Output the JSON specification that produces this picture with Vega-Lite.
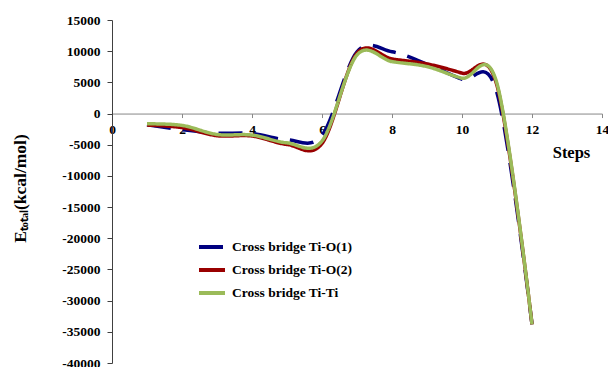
{
  "$schema": "https://vega.github.io/schema/vega-lite/v6.json",
  "width": 490,
  "height": 343,
  "autosize": {"type": "none"},
  "padding": {"left": 112, "top": 20, "right": 6, "bottom": 4},
  "background": "white",
  "config": {"view": {"stroke": null}, "font": "Liberation Serif"},
  "data": {
    "values": [
      {"step": 1, "series": "Cross bridge Ti-O(1)", "energy": -1800},
      {"step": 2, "series": "Cross bridge Ti-O(1)", "energy": -2600},
      {"step": 3, "series": "Cross bridge Ti-O(1)", "energy": -3150},
      {"step": 4, "series": "Cross bridge Ti-O(1)", "energy": -3200},
      {"step": 5, "series": "Cross bridge Ti-O(1)", "energy": -4200},
      {"step": 6, "series": "Cross bridge Ti-O(1)", "energy": -3500},
      {"step": 7, "series": "Cross bridge Ti-O(1)", "energy": 9900},
      {"step": 8, "series": "Cross bridge Ti-O(1)", "energy": 9900},
      {"step": 9, "series": "Cross bridge Ti-O(1)", "energy": 7900},
      {"step": 10, "series": "Cross bridge Ti-O(1)", "energy": 5500},
      {"step": 11, "series": "Cross bridge Ti-O(1)", "energy": 3300},
      {"step": 12, "series": "Cross bridge Ti-O(1)", "energy": -33800},
      {"step": 1, "series": "Cross bridge Ti-O(2)", "energy": -1850},
      {"step": 2, "series": "Cross bridge Ti-O(2)", "energy": -2250},
      {"step": 3, "series": "Cross bridge Ti-O(2)", "energy": -3550},
      {"step": 4, "series": "Cross bridge Ti-O(2)", "energy": -3600},
      {"step": 5, "series": "Cross bridge Ti-O(2)", "energy": -4950},
      {"step": 6, "series": "Cross bridge Ti-O(2)", "energy": -4800},
      {"step": 7, "series": "Cross bridge Ti-O(2)", "energy": 9670},
      {"step": 8, "series": "Cross bridge Ti-O(2)", "energy": 8760},
      {"step": 9, "series": "Cross bridge Ti-O(2)", "energy": 7960},
      {"step": 10, "series": "Cross bridge Ti-O(2)", "energy": 6470},
      {"step": 11, "series": "Cross bridge Ti-O(2)", "energy": 4500},
      {"step": 12, "series": "Cross bridge Ti-O(2)", "energy": -33800},
      {"step": 1, "series": "Cross bridge Ti-Ti", "energy": -1650},
      {"step": 2, "series": "Cross bridge Ti-Ti", "energy": -1900},
      {"step": 3, "series": "Cross bridge Ti-Ti", "energy": -3350},
      {"step": 4, "series": "Cross bridge Ti-Ti", "energy": -3450},
      {"step": 5, "series": "Cross bridge Ti-Ti", "energy": -4700},
      {"step": 6, "series": "Cross bridge Ti-Ti", "energy": -4400},
      {"step": 7, "series": "Cross bridge Ti-Ti", "energy": 9400},
      {"step": 8, "series": "Cross bridge Ti-Ti", "energy": 8330},
      {"step": 9, "series": "Cross bridge Ti-Ti", "energy": 7530},
      {"step": 10, "series": "Cross bridge Ti-Ti", "energy": 5670},
      {"step": 11, "series": "Cross bridge Ti-Ti", "energy": 4800},
      {"step": 12, "series": "Cross bridge Ti-Ti", "energy": -33800}
    ]
  },
  "mark": {"type": "line", "interpolate": "cardinal", "tension": 0, "strokeWidth": 3.5, "clip": false},
  "encoding": {
    "x": {
      "field": "step",
      "type": "quantitative",
      "scale": {"domain": [0, 14], "nice": false, "zero": false},
      "axis": {
        "title": "Steps",
        "values": [0, 2, 4, 6, 8, 10, 12, 14],
        "offset": -249.45,
        "grid": false,
        "domainColor": "#888888",
        "tickColor": "#888888",
        "tickSize": 4,
        "labelPadding": 5,
        "labelFont": "Liberation Serif",
        "labelFontSize": 13.5,
        "labelFontWeight": "bold",
        "labelColor": "#000000",
        "labelFlush": false,
        "labelOverlap": false,
        "titleFont": "Liberation Serif",
        "titleFontSize": 16.5,
        "titleFontWeight": "bold",
        "titleColor": "#000000",
        "titleX": 459,
        "titleY": 44,
        "titleAlign": "center",
        "titleBaseline": "alphabetic"
      }
    },
    "y": {
      "field": "energy",
      "type": "quantitative",
      "scale": {"domain": [-40000, 15000], "nice": false, "zero": false},
      "axis": {
        "title": "Eₜₒₜₐₗ(kcal/mol)",
        "values": [-40000, -35000, -30000, -25000, -20000, -15000, -10000, -5000, 0, 5000, 10000, 15000],
        "labelExpr": "'' + datum.value",
        "grid": false,
        "domainColor": "#404040",
        "tickColor": "#404040",
        "tickSize": 5,
        "labelPadding": 7,
        "labelFont": "Liberation Serif",
        "labelFontSize": 13.5,
        "labelFontWeight": "bold",
        "labelColor": "#000000",
        "labelFlush": false,
        "labelOverlap": false,
        "titleFont": "Liberation Serif",
        "titleFontSize": 17.5,
        "titleFontWeight": "bold",
        "titleColor": "#000000",
        "titleAngle": -90,
        "titleX": -92,
        "titleY": 168,
        "titleAlign": "center",
        "titleBaseline": "middle"
      }
    },
    "color": {
      "field": "series",
      "type": "nominal",
      "scale": {
        "domain": ["Cross bridge Ti-O(1)", "Cross bridge Ti-O(2)", "Cross bridge Ti-Ti"],
        "range": ["#000080", "#990000", "#9BBB59"]
      },
      "legend": {
        "orient": "none",
        "legendX": 85,
        "legendY": 212,
        "title": null,
        "symbolType": "stroke",
        "symbolSize": 676,
        "symbolStrokeWidth": 4,
        "labelFont": "Liberation Serif",
        "labelFontSize": 13.5,
        "labelFontWeight": "bold",
        "labelColor": "#000000",
        "rowPadding": -2,
        "labelOffset": 5,
        "padding": 0
      }
    },
    "strokeDash": {
      "field": "series",
      "type": "nominal",
      "scale": {
        "domain": ["Cross bridge Ti-O(1)", "Cross bridge Ti-O(2)", "Cross bridge Ti-Ti"],
        "range": [[24, 12], [1, 0], [1, 0]]
      },
      "legend": null
    }
  }
}
